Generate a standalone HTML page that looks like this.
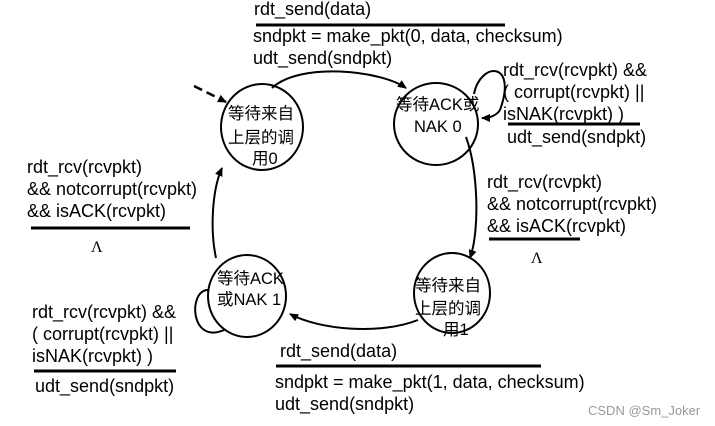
<!DOCTYPE html>
<html><head><meta charset="utf-8"><style>
html,body{margin:0;padding:0;background:#fff;}
svg{display:block}
text{font-family:"Liberation Sans","Noto Sans CJK SC",sans-serif;font-size:18px;fill:#000}
.c{font-size:16.5px}
</style></head><body>
<svg width="715" height="426" viewBox="0 0 715 426" xmlns="http://www.w3.org/2000/svg">
<defs>
<marker id="a" markerWidth="10" markerHeight="10" refX="8" refY="5" orient="auto" markerUnits="userSpaceOnUse">
<path d="M0,1 L9,5 L0,9 z" fill="#000"/></marker>
</defs>
<g fill="none" stroke="#000" stroke-width="2">
<ellipse cx="262" cy="127" rx="41" ry="43"/>
<ellipse cx="436" cy="124" rx="42" ry="41"/>
<ellipse cx="247" cy="296" rx="39" ry="41"/>
<ellipse cx="452" cy="293" rx="38" ry="40"/>
<path d="M272,88 C300,62 380,70 406,88" marker-end="url(#a)"/>
<path d="M466,137 C478,170 480,230 470,258" marker-end="url(#a)"/>
<path d="M418,320 C380,335 320,330 290,314" marker-end="url(#a)"/>
<path d="M216,258 C210,230 212,190 222,168" marker-end="url(#a)"/>
<path d="M474,94 C480,62 518,60 500,110 C496,116 490,118 482,118" marker-end="url(#a)"/>
<path d="M208,290 C188,290 190,345 224,330"/>
<path d="M194,86 L226,102" stroke-dasharray="9,5" stroke-width="2.5" marker-end="url(#a)"/>
</g>
<g stroke="#000" stroke-width="3">
<line x1="256" y1="25" x2="505" y2="25"/>
<line x1="508" y1="124" x2="640" y2="124"/>
<line x1="489" y1="239" x2="580" y2="239"/>
<line x1="31" y1="228" x2="190" y2="228"/>
<line x1="34" y1="371" x2="176" y2="371"/>
<line x1="276" y1="366" x2="541" y2="366"/>
</g>
<text class="c" x="228" y="119">等待来自</text>
<text class="c" x="228" y="143">上层的调</text>
<text class="c" x="252" y="164">用0</text>
<text class="c" x="396" y="110">等待ACK或</text>
<text class="c" x="414" y="132">NAK 0</text>
<text class="c" x="217" y="284">等待ACK</text>
<text class="c" x="217" y="305">或NAK 1</text>
<text class="c" x="415" y="291">等待来自</text>
<text class="c" x="415" y="314">上层的调</text>
<text class="c" x="443" y="335">用1</text>
<text x="254" y="15">rdt_send(data)</text>
<text x="253" y="42">sndpkt = make_pkt(0, data, checksum)</text>
<text x="253" y="64">udt_send(sndpkt)</text>
<text x="503" y="76">rdt_rcv(rcvpkt) &amp;&amp;</text>
<text x="503" y="98">( corrupt(rcvpkt) ||</text>
<text x="503" y="120">isNAK(rcvpkt) )</text>
<text x="507" y="143">udt_send(sndpkt)</text>
<text x="487" y="188">rdt_rcv(rcvpkt)</text>
<text x="487" y="210">&amp;&amp; notcorrupt(rcvpkt)</text>
<text x="487" y="232">&amp;&amp; isACK(rcvpkt)</text>
<text x="531" y="263" style="font-family:'Liberation Serif',serif;font-size:16px">Λ</text>
<text x="27" y="173">rdt_rcv(rcvpkt)</text>
<text x="27" y="195">&amp;&amp; notcorrupt(rcvpkt)</text>
<text x="27" y="217">&amp;&amp; isACK(rcvpkt)</text>
<text x="91" y="252" style="font-family:'Liberation Serif',serif;font-size:16px">Λ</text>
<text x="32" y="318">rdt_rcv(rcvpkt) &amp;&amp;</text>
<text x="32" y="340">( corrupt(rcvpkt) ||</text>
<text x="32" y="362">isNAK(rcvpkt) )</text>
<text x="35" y="392">udt_send(sndpkt)</text>
<text x="280" y="357">rdt_send(data)</text>
<text x="275" y="388">sndpkt = make_pkt(1, data, checksum)</text>
<text x="275" y="410">udt_send(sndpkt)</text>
<text x="588" y="415" style="font-size:13px;fill:#999">CSDN @Sm_Joker</text>
</svg>
</body></html>
